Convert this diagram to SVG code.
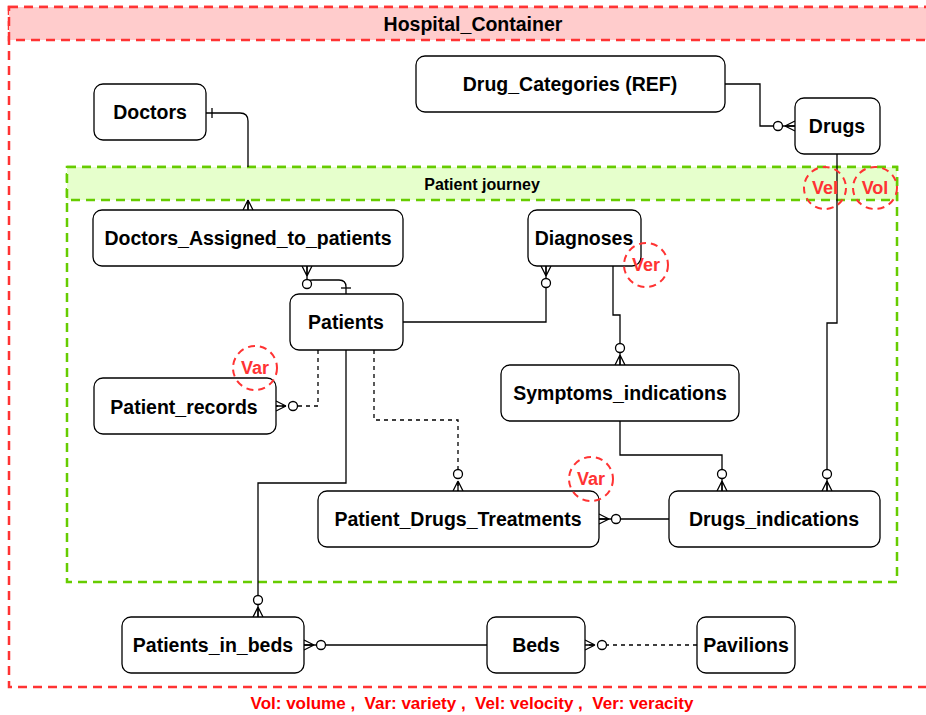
<svg xmlns="http://www.w3.org/2000/svg" width="926" height="715" viewBox="0 0 926 715">
<style>
.node rect{fill:#fff;stroke:#000;stroke-width:1.3}
.node text{font-family:"Liberation Sans",Arial,sans-serif;font-weight:bold;font-size:19.5px;text-anchor:middle;fill:#000}
.conn path{fill:none;stroke:#000;stroke-width:1.3}
.conn .dash{stroke-dasharray:4 4}
.zm{marker-end:url(#zm)}
.ann ellipse{fill:none;stroke:#FF3333;stroke-width:2;stroke-dasharray:7 5}
.ann text{font-family:"Liberation Sans",Arial,sans-serif;font-weight:bold;font-size:18px;text-anchor:middle;fill:#FF3333}
.title{font-family:"Liberation Sans",Arial,sans-serif;font-weight:bold;text-anchor:middle;fill:#000}
</style>
<defs>
<marker id="zm" markerUnits="userSpaceOnUse" markerWidth="30" markerHeight="20" viewBox="-25 -10 30 20" refX="0" refY="0" orient="auto" overflow="visible">
<path d="M-10,0 L0,-5 M-10,0 L0,5 M-10,0 L0,0" fill="none" stroke="#000" stroke-width="1.3"/>
<circle cx="-17" cy="0" r="4.5" fill="#fff" stroke="#000" stroke-width="1.3"/>
</marker>
<marker id="many" markerUnits="userSpaceOnUse" markerWidth="30" markerHeight="20" viewBox="-25 -10 30 20" refX="0" refY="0" orient="auto" overflow="visible">
<path d="M-10,0 L0,-5 M-10,0 L0,5 M-10,0 L0,0" fill="none" stroke="#000" stroke-width="1.3"/>
</marker>
<marker id="one" markerUnits="userSpaceOnUse" markerWidth="30" markerHeight="20" viewBox="-25 -10 30 20" refX="0" refY="0" orient="auto-start-reverse" overflow="visible">
<path d="M-6,-5 L-6,5" fill="none" stroke="#000" stroke-width="1.3"/>
</marker>
<marker id="zms" markerUnits="userSpaceOnUse" markerWidth="30" markerHeight="20" viewBox="-25 -10 30 20" refX="0" refY="0" orient="auto-start-reverse" overflow="visible">
<path d="M-10,0 L0,-5 M-10,0 L0,5 M-10,0 L0,0" fill="none" stroke="#000" stroke-width="1.3"/>
<circle cx="-18" cy="0" r="4.5" fill="#fff" stroke="#000" stroke-width="1.3"/>
</marker>
</defs>

<g id="Hospital_Container">
<rect x="9" y="7" width="929" height="680" fill="none" stroke="#FF3333" stroke-width="2.5" stroke-dasharray="9 6"/>
<rect x="9" y="7" width="929" height="33" fill="#FFCCCC" stroke="#FF3333" stroke-width="2.5" stroke-dasharray="9 6"/>
<text class="title" x="473" y="31" font-size="19.5px">Hospital_Container</text>
</g>

<g id="Patient_journey">
<rect x="67" y="167" width="830" height="415" fill="none" stroke="#66CC00" stroke-width="2.5" stroke-dasharray="9 6"/>
<rect x="67" y="167" width="830" height="33" fill="#E6FFCC" stroke="#66CC00" stroke-width="2.5" stroke-dasharray="9 6"/>
<text class="title" x="482" y="190" font-size="16px">Patient journey</text>
</g>

<g id="connectors" class="conn">
<path d="M206,113 H240 Q248,113 248,121 V167 M248,200 V210" marker-start="url(#one)" marker-end="url(#many)"/>
<path d="M307,266 V281 Q307,280 313,280 H339 Q346,280 346,287 V294" marker-start="url(#zms)" marker-end="url(#one)"/>
<path class="zm" d="M403,322 H546 V266"/>
<path class="zm" d="M613,266 V315 H620 V365"/>
<path class="zm" d="M620,421 V455 H722 V491"/>
<path class="zm" d="M837,154 V323 H827 V491"/>
<path class="zm" d="M725,84 H760 V126 H795"/>
<path class="zm dash" d="M318,350 V406 H276"/>
<path class="zm dash" d="M374,350 V420 H458 V491"/>
<path class="zm" d="M346,350 V483 H258 V617"/>
<path class="zm" d="M669,519 H599"/>
<path class="zm" d="M487,645 H304"/>
<path class="zm dash" d="M697,645 H585"/>
</g>

<g id="Doctors" class="node"><rect x="94" y="84" width="112" height="56" rx="9"/><text x="150" y="119">Doctors</text></g>
<g id="Drug_Categories" class="node"><rect x="416" y="56" width="309" height="56" rx="9"/><text x="570" y="91">Drug_Categories (REF)</text></g>
<g id="Drugs" class="node"><rect x="795" y="98" width="85" height="56" rx="9"/><text x="837" y="133">Drugs</text></g>
<g id="Doctors_Assigned_to_patients" class="node"><rect x="93" y="210" width="310" height="56" rx="9"/><text x="248" y="245">Doctors_Assigned_to_patients</text></g>
<g id="Diagnoses" class="node"><rect x="528" y="210" width="113" height="56" rx="9"/><text x="584" y="245">Diagnoses</text></g>
<g id="Patients" class="node"><rect x="290" y="294" width="113" height="56" rx="9"/><text x="346" y="329">Patients</text></g>
<g id="Patient_records" class="node"><rect x="94" y="378" width="182" height="56" rx="9"/><text x="184" y="414">Patient_records</text></g>
<g id="Symptoms_indications" class="node"><rect x="501" y="365" width="238" height="56" rx="9"/><text x="620" y="400">Symptoms_indications</text></g>
<g id="Patient_Drugs_Treatments" class="node"><rect x="318" y="491" width="281" height="56" rx="9"/><text x="458" y="526">Patient_Drugs_Treatments</text></g>
<g id="Drugs_indications" class="node"><rect x="669" y="491" width="211" height="56" rx="9"/><text x="774" y="526">Drugs_indications</text></g>
<g id="Patients_in_beds" class="node"><rect x="122" y="617" width="182" height="56" rx="9"/><text x="213" y="652">Patients_in_beds</text></g>
<g id="Beds" class="node"><rect x="487" y="617" width="98" height="56" rx="9"/><text x="536" y="652">Beds</text></g>
<g id="Pavilions" class="node"><rect x="697" y="617" width="98" height="56" rx="9"/><text x="746" y="652">Pavilions</text></g>

<g id="annotations" class="ann">
<g id="ann_vel"><ellipse cx="825" cy="188" rx="21" ry="21"/><text x="825" y="194">Vel</text></g>
<g id="ann_vol"><ellipse cx="875" cy="188" rx="22" ry="21"/><text x="875" y="194">Vol</text></g>
<g id="ann_ver"><ellipse cx="646" cy="265" rx="22" ry="22"/><text x="646" y="271">Ver</text></g>
<g id="ann_var1"><ellipse cx="255" cy="368" rx="22" ry="22"/><text x="255" y="374">Var</text></g>
<g id="ann_var2"><ellipse cx="591" cy="479" rx="22" ry="22"/><text x="591" y="485">Var</text></g>
</g>

<text x="472" y="709" font-family="Liberation Sans, Arial, sans-serif" font-weight="bold" font-size="17px" fill="#FF0000" text-anchor="middle">Vol: volume ,&#160; Var: variety ,&#160; Vel: velocity ,&#160; Ver: veracity</text>
</svg>
